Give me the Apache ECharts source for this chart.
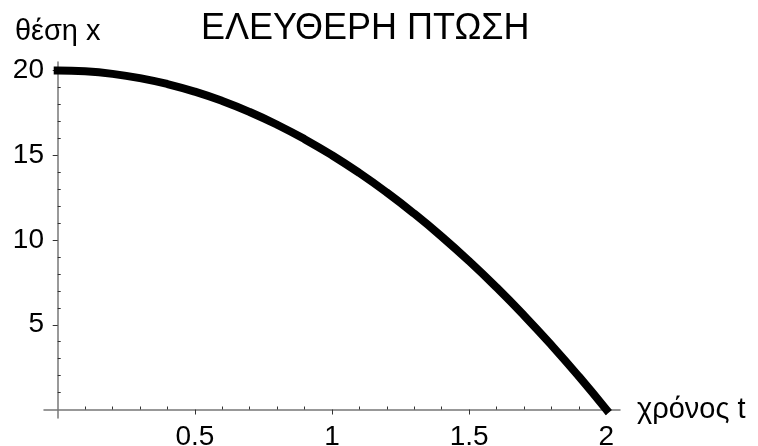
<!DOCTYPE html>
<html>
<head>
	<meta charset="utf-8">
	<title>ΕΛΕΥΘΕΡΗ ΠΤΩΣΗ</title>
	<script src="https://cdn.jsdelivr.net/npm/echarts@6/dist/echarts.min.js"></script>
	<style type="text/css">
		html, body { height: 100%; margin: 0; background: #fff; }
	</style>
</head>
<body>
	<div id="main" style="width: 758px;height:446px;"></div>
	<script type="text/javascript">
	// χρόνος t (s) και θέση x (m), διαβασμένα από την καμπύλη
	var tValues = [0, 0.1, 0.2, 0.3, 0.4, 0.5, 0.6, 0.7, 0.8, 0.9, 1,
		1.1, 1.2, 1.3, 1.4, 1.5, 1.6, 1.7, 1.8, 1.9, 2];
	var xValues = [20, 19.95, 19.8, 19.55, 19.2, 18.75, 18.2, 17.55, 16.8, 15.95, 15,
		13.95, 12.8, 11.55, 10.2, 8.75, 7.2, 5.55, 3.8, 1.95, 0];

	// ticks
	var xMajorTicks = [0.5, 1, 1.5, 2];
	var xMinorTicks = [0.1, 0.2, 0.3, 0.4, 0.6, 0.7, 0.8, 0.9, 1.1, 1.2, 1.3, 1.4, 1.6, 1.7, 1.8, 1.9];
	var yMajorTicks = [5, 10, 15, 20];
	var yMinorTicks = [1, 2, 3, 4, 6, 7, 8, 9, 11, 12, 13, 14, 16, 17, 18, 19];

	var fontFamily = '"Liberation Sans", Arial, sans-serif';
	var axisColor = '#777777';

	var points = [];
	for (var i = 0; i < tValues.length; i++) {
		points.push([tValues[i], xValues[i]]);
	}

	var dom = document.getElementById("main");
	var myChart = echarts.init(dom, null, {renderer: 'canvas'});
	var option = {
		backgroundColor: '#ffffff',
		animation: false,
		title: {
			text: 'ΕΛΕΥΘΕΡΗ ΠΤΩΣΗ',
			left: 201,
			top: 11,
			padding: 0,
			textStyle: {
				color: '#000',
				fontFamily: fontFamily,
				fontWeight: 'normal',
				fontSize: 36
			}
		},
		grid: {
			left: 44,
			right: 138,
			top: 62,
			bottom: 28,
			containLabel: false,
			outerBoundsMode: 'none'
		},
		xAxis: [{
			type: 'value',
			min: -0.05,
			max: 2.05,
			name: 'χρόνος t',
			nameLocation: 'end',
			nameGap: 17,
			nameTextStyle: {
				color: '#000',
				fontFamily: fontFamily,
				fontSize: 29,
				verticalAlign: 'middle'
			},
			axisLine: {
				show: true,
				onZero: true,
				lineStyle: { color: axisColor, width: 1.5 }
			},
			axisTick: {
				show: true,
				inside: false,
				length: 5,
				customValues: xMajorTicks,
				lineStyle: { color: '#333', width: 1 }
			},
			axisLabel: {
				show: true,
				customValues: xMajorTicks,
				margin: 5,
				color: '#000',
				fontFamily: fontFamily,
				fontSize: 28
			},
			splitLine: { show: false }
		}, {
			type: 'value',
			min: -0.05,
			max: 2.05,
			axisLine: { show: false, onZero: true },
			axisTick: {
				show: true,
				inside: false,
				length: 3,
				customValues: xMinorTicks,
				lineStyle: { color: '#333', width: 1 }
			},
			axisLabel: { show: false },
			splitLine: { show: false }
		}],
		yAxis: [{
			type: 'value',
			min: -0.5,
			max: 20.5,
			name: 'θέση x',
			nameLocation: 'end',
			nameGap: 16,
			nameTextStyle: {
				color: '#000',
				fontFamily: fontFamily,
				fontSize: 29
			},
			axisLine: {
				show: true,
				onZero: true,
				lineStyle: { color: axisColor, width: 1.5 }
			},
			axisTick: {
				show: true,
				inside: false,
				length: 5,
				customValues: yMajorTicks,
				lineStyle: { color: '#333', width: 1 }
			},
			axisLabel: {
				show: true,
				customValues: yMajorTicks,
				margin: 0,
				color: '#000',
				fontFamily: fontFamily,
				fontSize: 28
			},
			splitLine: { show: false }
		}, {
			type: 'value',
			min: -0.5,
			max: 20.5,
			axisLine: { show: false, onZero: true },
			axisTick: {
				show: true,
				inside: false,
				length: 3,
				customValues: yMinorTicks,
				lineStyle: { color: '#333', width: 1 }
			},
			axisLabel: { show: false },
			splitLine: { show: false }
		}],
		series: [{
			type: 'line',
			xAxisIndex: 0,
			yAxisIndex: 0,
			data: points,
			smooth: true,
			symbol: 'none',
			clip: false,
			lineStyle: {
				color: '#000',
				width: 8,
				cap: 'square'
			}
		}]
	};
	myChart.setOption(option);
	</script>
</body>
</html>
